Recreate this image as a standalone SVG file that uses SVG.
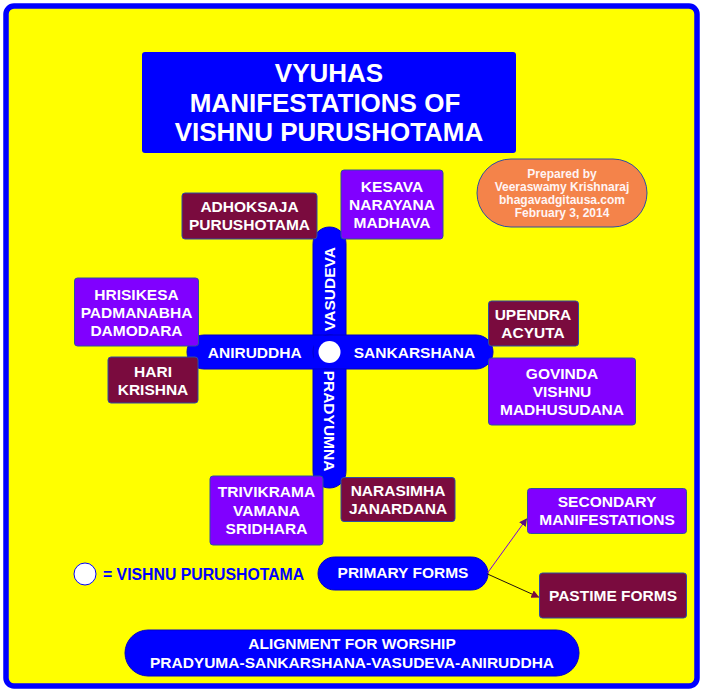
<svg xmlns="http://www.w3.org/2000/svg" width="703" height="692" viewBox="0 0 703 692">
<style>
text{font-family:"Liberation Sans",Arial,sans-serif;font-weight:bold;fill:#fff;text-anchor:middle}
.t{font-size:15.5px}
.p{fill:#8000ff;stroke:#2f4f9f;stroke-width:1}
.m{fill:#7a0b3e;stroke:#2f4f9f;stroke-width:1}
.b{fill:#0000ff;stroke:#0000c8;stroke-width:1}
</style>
<defs>
<marker id="ap" markerWidth="8" markerHeight="8" refX="7" refY="4" orient="auto" markerUnits="userSpaceOnUse"><path d="M0,0 L8,4 L0,8 Z" fill="#5a1080"/></marker>
<marker id="am" markerWidth="8" markerHeight="8" refX="7" refY="4" orient="auto" markerUnits="userSpaceOnUse"><path d="M0,0 L8,4 L0,8 Z" fill="#7a0b3e"/></marker>
</defs>
<rect x="6" y="6" width="691" height="680" rx="8" fill="#ffff00" stroke="#0000ff" stroke-width="5.5"/>

<g id="title">
<rect x="142" y="52" width="374" height="101" rx="3" fill="#0000ff"/>
<text x="329" y="81.7" style="font-size:26px">VYUHAS</text>
<text x="325" y="111.7" style="font-size:26px">MANIFESTATIONS OF</text>
<text x="329" y="140.5" style="font-size:26px">VISHNU PURUSHOTAMA</text>
</g>

<g id="credit">
<rect x="477" y="159" width="170" height="68" rx="34" fill="#f4834a" stroke="#2f4f9f" stroke-width="1"/>
<text x="562" y="177.5" style="font-size:12px;fill:#fff4f4">Prepared by</text>
<text x="562" y="190.5" style="font-size:12px;fill:#fff4f4">Veeraswamy Krishnaraj</text>
<text x="562" y="204" style="font-size:12px;fill:#fff4f4">bhagavadgitausa.com</text>
<text x="562" y="216.5" style="font-size:12px;fill:#fff4f4">February 3, 2014</text>
</g>

<g id="cross">
<rect class="b" x="313" y="227" width="33" height="142" rx="16.5"/>
<rect class="b" x="313" y="335" width="33" height="153" rx="16.5"/>
<rect class="b" x="187" y="335" width="159" height="34" rx="17"/>
<rect class="b" x="313" y="335" width="180" height="34" rx="17"/>
<rect x="314" y="340" width="31" height="24" fill="#0000ff"/>
<rect x="318" y="336" width="23" height="32" fill="#0000ff"/>
<circle cx="329.5" cy="352" r="11" fill="#fff"/>
<text class="t" transform="translate(329.5,289) rotate(-90)" x="0" y="5.5">VASUDEVA</text>
<text class="t" transform="translate(329.5,421) rotate(90)" x="0" y="5.5">PRADYUMNA</text>
<text class="t" x="254.7" y="357.5">ANIRUDDHA</text>
<text class="t" x="414.5" y="357.5">SANKARSHANA</text>
</g>

<g id="adhoksaja">
<rect class="m" x="182" y="193" width="135" height="46" rx="3"/>
<text class="t" x="249.5" y="211.5">ADHOKSAJA</text>
<text class="t" x="249.5" y="229.5">PURUSHOTAMA</text>
</g>
<g id="kesava">
<rect class="p" x="341" y="170" width="102" height="69" rx="3"/>
<text class="t" x="392" y="191.5">KESAVA</text>
<text class="t" x="392" y="209.5">NARAYANA</text>
<text class="t" x="392" y="227.5">MADHAVA</text>
</g>
<g id="hrisikesa">
<rect class="p" x="74.5" y="278" width="124" height="68" rx="3"/>
<text class="t" x="136.5" y="299.5">HRISIKESA</text>
<text class="t" x="136.5" y="317.5">PADMANABHA</text>
<text class="t" x="136.5" y="336">DAMODARA</text>
</g>
<g id="hari">
<rect class="m" x="108" y="357" width="90" height="46" rx="3"/>
<text class="t" x="153" y="377">HARI</text>
<text class="t" x="153" y="394.5">KRISHNA</text>
</g>
<g id="upendra">
<rect class="m" x="488.5" y="301" width="90" height="45" rx="3"/>
<text class="t" x="533" y="319.5">UPENDRA</text>
<text class="t" x="533" y="337.5">ACYUTA</text>
</g>
<g id="govinda">
<rect class="p" x="488.5" y="358" width="147" height="67" rx="3"/>
<text class="t" x="562" y="378.5">GOVINDA</text>
<text class="t" x="562" y="397">VISHNU</text>
<text class="t" x="562" y="414.5">MADHUSUDANA</text>
</g>
<g id="trivikrama">
<rect class="p" x="210" y="476" width="113" height="69" rx="3"/>
<text class="t" x="266.5" y="497">TRIVIKRAMA</text>
<text class="t" x="266.5" y="515.5">VAMANA</text>
<text class="t" x="266.5" y="533.5">SRIDHARA</text>
</g>
<g id="narasimha">
<rect class="m" x="341" y="477.5" width="114" height="44" rx="3"/>
<text class="t" x="398" y="495.5">NARASIMHA</text>
<text class="t" x="398" y="513.5">JANARDANA</text>
</g>

<g id="legend">
<circle cx="85" cy="574" r="11" fill="#fff" stroke="#0000ff" stroke-width="1"/>
<text class="t" x="103" y="579.5" style="fill:#0000ff;text-anchor:start;font-size:15.8px">= VISHNU PURUSHOTAMA</text>
</g>

<g id="primary">
<rect class="b" x="318" y="557" width="170" height="33" rx="16.5"/>
<text class="t" x="403" y="577.5">PRIMARY FORMS</text>
</g>
<g id="secondary">
<rect class="p" x="527.5" y="488.5" width="159" height="45" rx="3"/>
<text class="t" x="607" y="507">SECONDARY</text>
<text class="t" x="607" y="525">MANIFESTATIONS</text>
</g>
<g id="pastime">
<rect class="m" x="539.5" y="573" width="147" height="45" rx="3"/>
<text class="t" x="613" y="600.5">PASTIME FORMS</text>
</g>

<g id="connectors">
<line x1="487.5" y1="573" x2="526.5" y2="519" stroke="#7a00e0" stroke-width="1" marker-end="url(#ap)"/>
<line x1="487.5" y1="574" x2="538.5" y2="597" stroke="#201010" stroke-width="1" marker-end="url(#am)"/>
</g>

<g id="alignment">
<rect class="b" x="125" y="630" width="454" height="46" rx="23"/>
<text class="t" x="352" y="649">ALIGNMENT FOR WORSHIP</text>
<text class="t" x="352" y="667.5">PRADYUMA-SANKARSHANA-VASUDEVA-ANIRUDDHA</text>
</g>
</svg>
